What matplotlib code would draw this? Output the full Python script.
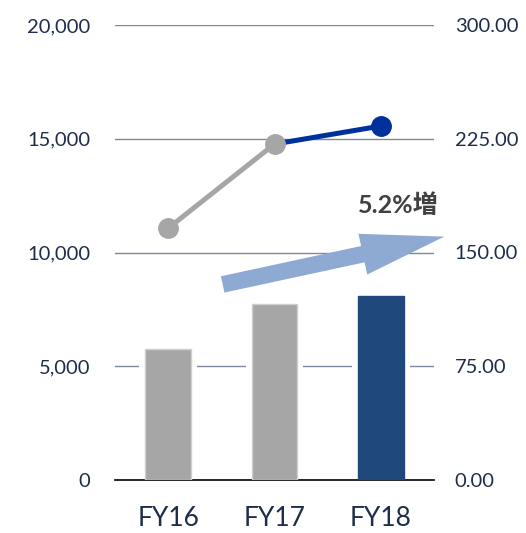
import matplotlib.pyplot as plt
from matplotlib.patches import FancyArrowPatch
from matplotlib.ticker import FuncFormatter

plt.rcParams['font.family'] = ['Lato', 'Noto Sans CJK JP', 'DejaVu Sans']

# data
years = ['FY16', 'FY17', 'FY18']
bar_values = [5760, 7740, 8090]          # left axis
line_values = [166.0, 221.5, 233.4]      # right axis
bar_colors = ['#a6a6a6', '#a6a6a6', '#1f497d']
left_ticks = [0, 5000, 10000, 15000, 20000]
right_ticks = [0, 75, 150, 225, 300]
growth_label = '5.2%増'

W, H = 526, 533
fig = plt.figure(figsize=(W / 100, H / 100), dpi=100)
ax = fig.add_axes([115 / W, 1 - 480 / H, (434 - 115) / W, (480 - 25) / H])
ax2 = ax.twinx()

x = list(range(len(years)))
tick_col = '#1f2d4a'

# gridlines (left axis)
for t in left_ticks[1:]:
    ax.axhline(t, color='#7d889c', lw=1, zorder=1)

# white halo behind bars so the gridline stops short of them
ax.bar(x, bar_values, width=0.54, color='white', zorder=2)
ax.bar(x, bar_values, width=0.43, color=bar_colors,
       edgecolor=['#cfcfcf', '#cfcfcf', '#1f497d'], lw=1, zorder=3)

ax.set_xlim(-0.5, 2.5)
ax.set_ylim(0, 20000)
ax.set_yticks(left_ticks)
ax.yaxis.set_major_formatter(FuncFormatter(lambda v, p: f'{int(v):,}'))
ax.set_xticks(x)
ax.set_xticklabels(years)
ax.tick_params(axis='y', length=0, pad=18, labelsize=14.5, labelcolor=tick_col)
ax.tick_params(axis='x', length=0, pad=19, labelsize=19, labelcolor=tick_col)

for s in ['top', 'left', 'right']:
    ax.spines[s].set_visible(False)
    ax2.spines[s].set_visible(False)
ax.spines['bottom'].set_color('black')
ax.spines['bottom'].set_linewidth(1.2)
ax2.spines['bottom'].set_visible(False)

# line on right axis: grey up to FY17, blue afterwards
ax2.plot(x[:2], line_values[:2], color='#a6a6a6', lw=3.6, zorder=4)
ax2.plot(x[1:], line_values[1:], color='#00309c', lw=3.6, zorder=4)
ax2.plot(x[:2], line_values[:2], 'o', color='#a6a6a6', ms=14, zorder=5)
ax2.plot(x[2:], line_values[2:], 'o', color='#00309c', ms=14, zorder=5)

ax2.set_ylim(0, 300)
ax2.set_yticks(right_ticks)
ax2.yaxis.set_major_formatter(FuncFormatter(lambda v, p: f'{v:.2f}'))
ax2.tick_params(axis='y', length=0, pad=15, labelsize=14.5, labelcolor=tick_col)

# growth arrow
arrow = FancyArrowPatch((220 / W, 1 - 285 / H), (447 / W, 1 - 236 / H),
                        transform=fig.transFigure,
                        arrowstyle='simple,head_length=6.0,head_width=3.0,tail_width=1.2',
                        mutation_scale=10, color='#8eaad2', lw=0, zorder=6)
fig.patches.append(arrow)
fig.text(398 / W, 1 - 205 / H, growth_label, ha='center', va='center',
         fontsize=18, fontweight='bold', color='#404040')

fig.savefig('out.png', dpi=100)
